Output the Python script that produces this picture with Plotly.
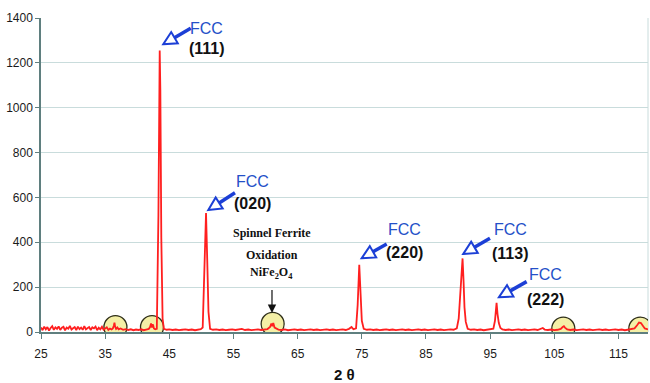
import math
import plotly.graph_objects as go

# ---------------- data ----------------
two_theta = [
    25.0, 25.25, 25.5, 25.75, 26.0, 26.25, 26.5, 26.75, 27.0, 27.25, 27.5, 27.75, 28.0, 28.25, 28.5, 28.75,
    29.0, 29.25, 29.5, 29.75, 30.0, 30.25, 30.5, 30.75, 31.0, 31.25, 31.5, 31.75, 32.0, 32.25, 32.5, 32.75,
    33.0, 33.25, 33.5, 33.75, 34.0, 34.25, 34.5, 34.75, 35.0, 35.25, 35.5, 35.75,
    36.0, 36.2, 36.35, 36.45, 36.55, 36.7, 36.9, 37.1, 37.4, 37.8, 38.2, 38.6, 39.0, 39.4, 39.8, 40.2,
    40.6, 41.0, 41.4, 41.8, 42.0, 42.15, 42.3, 42.45, 42.6, 42.8, 43.05, 43.3, 43.5, 43.6, 43.75, 43.95,
    44.15, 44.6, 45.0, 45.5, 46.0, 46.5, 47.0, 47.5, 48.0, 48.5, 49.0, 49.5, 49.9, 50.2, 50.5, 50.72,
    50.9, 51.1, 51.35, 51.8, 52.3, 52.8, 53.3, 53.8, 54.3, 54.8, 55.3, 55.8, 56.3, 56.8, 57.3, 57.8,
    58.3, 58.8, 59.3, 59.8, 60.3, 60.7, 60.9, 61.05, 61.2, 61.4, 61.7, 62.0, 62.5, 63.0, 63.5, 64.0,
    64.5, 65.0, 65.5, 66.0, 66.5, 67.0, 67.5, 68.0, 68.5, 69.0, 69.5, 70.0, 70.5, 71.0, 71.5, 72.0,
    72.5, 73.0, 73.4, 73.7, 74.1, 74.35, 74.6, 74.8, 75.0, 75.3, 75.8, 76.3, 76.8, 77.3, 77.8, 78.3,
    78.8, 79.3, 79.8, 80.3, 80.8, 81.3, 81.8, 82.3, 82.8, 83.3, 83.8, 84.3, 84.8, 85.3, 85.8, 86.3,
    86.8, 87.3, 87.8, 88.3, 88.8, 89.3, 89.8, 90.1, 90.4, 90.7, 90.85, 91.0, 91.2, 91.5, 92.0, 92.5,
    93.0, 93.5, 94.0, 94.5, 95.0, 95.5, 95.75, 96.0, 96.15, 96.35, 96.6, 96.9, 97.4, 97.9, 98.4, 98.9,
    99.4, 99.9, 100.4, 100.9, 101.4, 101.9, 102.4, 102.9, 103.2, 103.5, 104.0, 104.5, 105.0, 105.5, 106.0, 106.3,
    106.5, 106.7, 107.0, 107.5, 108.0, 108.5, 109.0, 109.5, 110.0, 110.5, 111.0, 111.5, 112.0, 112.5, 113.0, 113.5,
    114.0, 114.5, 115.0, 115.5, 116.0, 116.5, 117.0, 117.5, 117.9, 118.2, 118.5, 118.8, 119.1, 119.6,
]
intensity = [
    20, 8, 24, 12, 22, 6, 18, 26, 10, 21, 14, 25, 9, 19, 23, 7,
    20, 15, 27, 11, 17, 22, 8, 24, 13, 20, 10, 26, 12, 18, 22, 9,
    21, 16, 24, 8, 19, 12, 23, 10, 17, 21, 9, 15,
    11, 16, 28, 42, 24, 14, 20, 12, 16, 10, 13, 9, 12, 8, 11, 9,
    12, 8, 11, 14, 22, 38, 20, 34, 16, 12, 14, 520, 1255, 1080, 420, 60,
    14, 10, 12, 9, 11, 8, 10, 12, 9, 11, 8, 10, 13, 20, 260, 530,
    330, 90, 14, 10, 12, 9, 11, 8, 10, 12, 9, 11, 14, 9, 11, 8,
    10, 12, 9, 11, 13, 22, 38, 26, 40, 20, 14, 11, 9, 12, 8, 10,
    12, 9, 11, 8, 10, 12, 9, 11, 8, 10, 12, 9, 11, 8, 10, 12,
    9, 14, 22, 12, 16, 120, 300, 160, 50, 14, 10, 12, 9, 11, 8, 10,
    12, 9, 11, 8, 10, 12, 9, 11, 8, 10, 12, 9, 11, 8, 10, 12,
    9, 11, 8, 10, 12, 10, 16, 60, 180, 328, 230, 110, 45, 14, 10, 12,
    9, 11, 8, 10, 12, 15, 50, 130, 80, 40, 18, 12, 9, 11, 8, 10,
    12, 9, 11, 8, 10, 12, 9, 15, 18, 11, 9, 11, 8, 10, 14, 22,
    26, 18, 12, 9, 11, 8, 10, 12, 9, 11, 8, 10, 12, 9, 11, 8,
    10, 12, 9, 11, 8, 10, 12, 16, 30, 42, 40, 28, 16, 12,
]

# highlighted minor (oxide) reflections
circle_theta = [36.6, 42.3, 61.1, 106.4, 118.4]
circle_level = [22, 22, 36, 15, 15]

# FCC labels: (plane, label center x, label center y) and arrow tips
fcc_planes = ["(111)", "(020)", "(220)", "(113)", "(222)"]
fcc_label_x = [50.85, 58.0, 81.72, 98.15, 103.7]
fcc_label_y = [1351, 671, 459, 459, 256]
fcc_plane_y = [1262, 571, 354, 350, 143]
fcc_tip_x = [44.06, 51.07, 74.98, 90.81, 96.37]
fcc_tip_y = [1283, 544, 329, 348, 155]
fcc_tail_dx = [27.4, 26.7, 25.0, 26.7, 27.7]    # pixels
fcc_tail_dy = [-16.0, -17.3, -14.3, -15.7, -15.6]

spinel_lines = ["Spinnel Ferrite", "Oxidation", "NiFe<sub>2</sub>O<sub>4</sub>"]
spinel_x = 61.0
spinel_line_y = [441, 343, 263]

x_ticks = [25, 35, 45, 55, 65, 75, 85, 95, 105, 115]
y_ticks = [0, 200, 400, 600, 800, 1000, 1200, 1400]

# ---------------- figure ----------------
RED = "#ff1f1f"
BLUE_TXT = "#2450c8"
BLUE_ARR = "#1c3fd6"
GRID = "#c9dcdc"
AXIS = "#5f7f7f"

fig = go.Figure()

fig.add_trace(go.Scatter(
    x=circle_theta, y=circle_level, mode="markers",
    marker=dict(symbol="circle", size=23, color="#f4efa6",
                line=dict(color="#2e2e18", width=1.3)),
    hoverinfo="skip", showlegend=False,
))

fig.add_trace(go.Scatter(
    x=two_theta, y=intensity, mode="lines",
    line=dict(color=RED, width=1.8),
    showlegend=False,
))

shapes = []
annotations = []

L_HEAD, W_HEAD = 13.0, 6.5
for i in range(len(fcc_planes)):
    dx, dy = fcc_tail_dx[i], fcc_tail_dy[i]
    n = math.hypot(dx, dy)
    ux, uy = dx / n, dy / n
    bx, by = ux * L_HEAD, uy * L_HEAD
    px_, py_ = -uy, ux
    c1 = (bx + px_ * W_HEAD, by + py_ * W_HEAD)
    c2 = (bx - px_ * W_HEAD, by - py_ * W_HEAD)
    # pixel-mode path: y positive is up, screen dy positive is down
    path = "M 0,0 L {:.1f},{:.1f} L {:.1f},{:.1f} Z".format(c1[0], -c1[1], c2[0], -c2[1])
    shapes.append(dict(type="line", xref="x", yref="y",
                       xsizemode="pixel", ysizemode="pixel",
                       xanchor=fcc_tip_x[i], yanchor=fcc_tip_y[i],
                       x0=bx, y0=-by, x1=dx, y1=-dy,
                       line=dict(color=BLUE_ARR, width=3.5)))
    shapes.append(dict(type="path", xref="x", yref="y",
                       xsizemode="pixel", ysizemode="pixel",
                       xanchor=fcc_tip_x[i], yanchor=fcc_tip_y[i],
                       path=path, fillcolor="white",
                       line=dict(color=BLUE_ARR, width=2)))
    annotations.append(dict(x=fcc_label_x[i], y=fcc_label_y[i], xref="x", yref="y",
                            text="FCC", showarrow=False,
                            font=dict(family="Liberation Sans, Arial", size=16, color=BLUE_TXT)))
    annotations.append(dict(x=fcc_label_x[i], y=fcc_plane_y[i], xref="x", yref="y",
                            text="<b>" + fcc_planes[i] + "</b>", showarrow=False,
                            font=dict(family="Liberation Sans, Arial", size=16, color="#111111")))

for txt, yy in zip(spinel_lines, spinel_line_y):
    annotations.append(dict(x=spinel_x, y=yy, xref="x", yref="y",
                            text="<b>" + txt + "</b>", showarrow=False,
                            font=dict(family="Liberation Serif, Times New Roman", size=12, color="#111111")))

annotations.append(dict(x=spinel_x, y=85, xref="x", yref="y", text=" ",
                        showarrow=True, arrowhead=2, arrowsize=1.4, arrowwidth=1.2,
                        arrowcolor="#111111", ax=0, ay=-33))

annotations.append(dict(x=0.5, y=0, xref="paper", yref="paper", yshift=-42,
                        text="<b>2 θ</b>", showarrow=False, yanchor="middle",
                        font=dict(family="Liberation Sans, Arial", size=15, color="#111111")))

shapes.append(dict(type="line", xref="paper", yref="paper", x0=1, x1=1, y0=0, y1=1,
                   line=dict(color=GRID, width=1), layer="below"))

tick_font = dict(family="Liberation Sans Narrow, Arial Narrow, Liberation Sans", size=12, color="#1a1a1a")

fig.update_layout(
    width=650, height=383,
    margin=dict(l=41, r=2, t=18, b=51),
    paper_bgcolor="white", plot_bgcolor="white",
    shapes=shapes, annotations=annotations,
    xaxis=dict(range=[25, 119.6], tickvals=x_ticks, showgrid=False, zeroline=False,
               showline=True, linecolor=AXIS, linewidth=1.5,
               ticks="outside", ticklen=5, tickcolor=AXIS, tickwidth=1,
               tickfont=tick_font, ticklabelstandoff=5),
    yaxis=dict(range=[0, 1400], tickvals=y_ticks, showgrid=True, gridcolor=GRID, gridwidth=1,
               zeroline=False, showline=True, linecolor=AXIS, linewidth=1.5,
               ticks="outside", ticklen=4, tickcolor=AXIS, tickwidth=1,
               tickfont=tick_font),
)

fig.write_html("out.html")
